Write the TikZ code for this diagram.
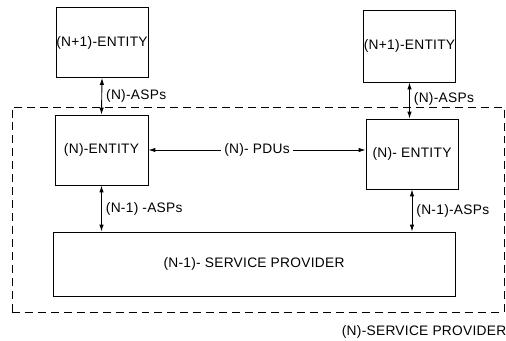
\documentclass[tikz,border=0pt]{standalone}
\usepackage{fontspec}
\setmainfont[LetterSpace=2]{Liberation Sans}
\usetikzlibrary{arrows.meta}
\begin{document}
\begin{tikzpicture}[x=1bp,y=-1bp,
  every node/.style={font=\fontsize{13.8}{16}\selectfont},
  entity/.style={draw,line width=0.9pt,inner sep=0pt,minimum width=92bp,minimum height=70bp},
  conn/.style={line width=0.9pt,{Latex[length=7pt,width=4.5pt]}-{Latex[length=7pt,width=4.5pt]}},
  lbl/.style={inner sep=0pt,anchor=west,xshift=4bp}]
\useasboundingbox (0,0) rectangle (506,340);
% dashed (N)-service provider
\node[draw,line width=0.9pt,dash pattern=on 8pt off 5pt,minimum width=492bp,minimum height=205bp,inner sep=0pt] (np) at (258,209.5) {};
\node[anchor=north east,inner sep=0pt] (nplbl) at ([xshift=2bp,yshift=-13bp]np.south east) {(N)-SERVICE PROVIDER};
% entities
\node[entity] (a1) at (102,42.5) {(N+1)-ENTITY};
\node[entity,minimum width=85bp,minimum height=72bp] (a2) at (409.5,46) {(N+1)-ENTITY};
\node[entity,minimum width=93bp] (e1) at (101.5,150) {(N)-ENTITY};
\node[entity] (e2) at (412,154) {(N)- ENTITY};
\node[draw,line width=0.9pt,inner sep=0pt,minimum width=402bp,minimum height=64bp] (sp) at (254,264) {(N-1)- SERVICE PROVIDER};
% connectors
\draw[conn] (a1.south) -- (e1.north) node[lbl,midway] {(N)-ASPs};
\draw[conn] (a2.south) -- (a2.south |- e2.north) node[lbl,midway,yshift=2bp] {(N)-ASPs};
\draw[conn] (e1.south) -- (e1.south |- sp.north) node[lbl,midway] {(N-1) -ASPs};
\draw[conn] (e2.south) -- (e2.south |- sp.north) node[lbl,midway] {(N-1)-ASPs};
\draw[conn] (e1.east) -- (e1.east -| e2.west) node[midway,fill=white,inner xsep=3pt,inner ysep=1pt] {(N)- PDUs};
\end{tikzpicture}
\end{document}
